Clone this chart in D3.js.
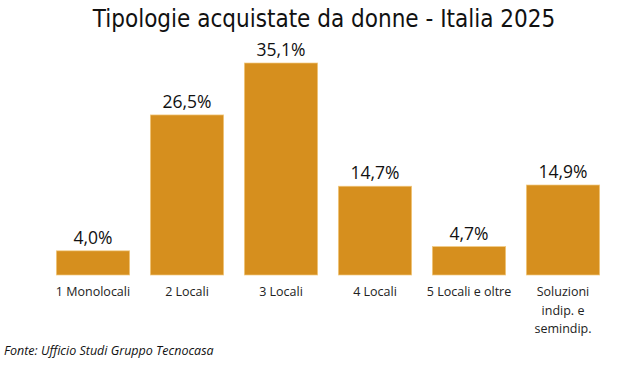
<!DOCTYPE html>
<html>
<head>
<meta charset="utf-8">
<script src="https://cdn.jsdelivr.net/npm/d3@7"></script>
<style>
body { margin: 0; background: #fff; }
svg { display: block; }
</style>
</head>
<body>
<div id="chart"></div>
<script>
// dati
var categories = ["1 Monolocali", "2 Locali", "3 Locali", "4 Locali", "5 Locali e oltre", "Soluzioni indip. e semindip."];
var labelLines = [["1 Monolocali"], ["2 Locali"], ["3 Locali"], ["4 Locali"], ["5 Locali e oltre"], ["Soluzioni", "indip. e", "semindip."]];
var values = [4.0, 26.5, 35.1, 14.7, 4.7, 14.9];

WIDTH = 643
HEIGHT = 367
BASE = 275
BAR_COLOR = "#D68F1E"

var svg = d3.select("#chart").append("svg")
	.attr("width", WIDTH)
	.attr("height", HEIGHT);

var x = d3.scaleBand()
	.domain(categories)
	.range([46, 610])
	.paddingInner(0.22)
	.paddingOuter(0.11);

var y = d3.scaleLinear()
	.domain([0, 35.1])
	.range([BASE, 63]);

var fmt = function(v) { return d3.format(".1f")(v).replace(".", ",") + "%"; };

// titolo
svg.append("text")
	.attr("x", 324)
	.attr("y", 27)
	.attr("text-anchor", "middle")
	.style("font-family", "'DejaVu Sans Condensed', 'Liberation Sans Narrow', sans-serif")
	.style("font-size", "24px")
	.style("fill", "#111")
	.text("Tipologie acquistate da donne - Italia 2025");

// barre
svg.selectAll("rect.bar")
	.data(values)
	.enter().append("rect")
	.attr("class", "bar")
	.attr("x", function(d, i) { return x(categories[i]); })
	.attr("y", function(d) { return y(d); })
	.attr("width", x.bandwidth())
	.attr("height", function(d) { return BASE - y(d); })
	.style("fill", BAR_COLOR)
	.style("stroke", "#F2C97F")
	.style("stroke-width", 0.7);

// etichette valori
svg.selectAll("text.val")
	.data(values)
	.enter().append("text")
	.attr("class", "val")
	.attr("x", function(d, i) { return x(categories[i]) + x.bandwidth() / 2; })
	.attr("y", function(d) { return y(d) - 7; })
	.attr("text-anchor", "middle")
	.style("font-family", "'Open Sans', 'Noto Sans', sans-serif")
	.style("font-size", "17.5px")
	.style("fill", "#111")
	.text(fmt);

// etichette categorie
var cat = svg.selectAll("text.cat")
	.data(labelLines)
	.enter().append("text")
	.attr("class", "cat")
	.attr("x", function(d, i) { return x(categories[i]) + x.bandwidth() / 2; })
	.attr("y", 296)
	.attr("text-anchor", "middle")
	.style("font-family", "'Open Sans', 'Noto Sans', sans-serif")
	.style("font-size", "12.5px")
	.style("fill", "#222");

cat.each(function(lines, i) {
	var t = d3.select(this);
	lines.forEach(function(l, j) {
		t.append("tspan")
			.attr("x", x(categories[i]) + x.bandwidth() / 2)
			.attr("dy", j === 0 ? 0 : 18.5)
			.text(l);
	});
});

// fonte
svg.append("text")
	.attr("x", 4)
	.attr("y", 355)
	.style("font-family", "'Open Sans', 'Noto Sans', sans-serif")
	.style("font-style", "italic")
	.style("font-size", "12.5px")
	.style("fill", "#111")
	.text("Fonte: Ufficio Studi Gruppo Tecnocasa");
</script>
</body>
</html>
